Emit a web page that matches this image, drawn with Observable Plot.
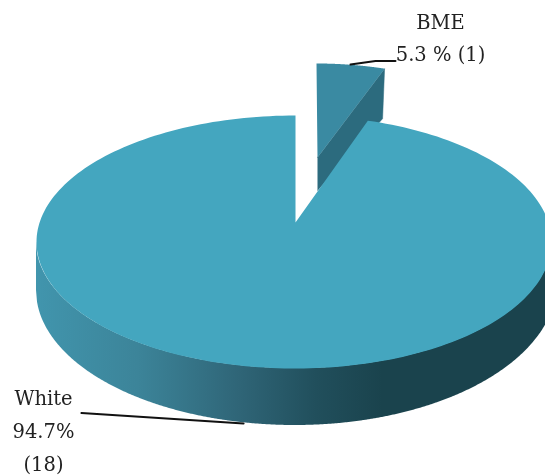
<!DOCTYPE html>
<html>
<head>
<meta charset="utf-8">
<script src="https://cdn.jsdelivr.net/npm/d3@7"></script>
<script src="https://cdn.jsdelivr.net/npm/@observablehq/plot@0.6"></script>
<style>html,body{margin:0;padding:0;background:#fff}svg{display:block}</style>
</head>
<body>
<div id="chart"></div>
<script>
const categories = ["White", "BME"];
const shares = [94.7, 5.3];
const counts = [18, 1];

const W = 545, H = 475;
const arcs = d3.pie().sort(null).startAngle(0).endAngle(2 * Math.PI)(shares.slice().reverse());
const sweep = arcs[0].endAngle * 0.86; // foreshortened opening of the slice

const steps = d3.range(0, 241).map(i => i / 240);
const ell = (cx, cy, rx, ry, a) => ({x: cx + rx * Math.sin(a), y: cy - ry * Math.cos(a)});
const rxTop = a => (Math.sin(a) > 0 ? 256 : 259);

// main slice top face
const bigAngles = steps.map(t => sweep + t * (2 * Math.PI - sweep));
const bigTop = [{x: 295, y: 222}, ...bigAngles.map(a => ell(295, 241.5, rxTop(a), 126.5, a))];
// main slice wall
const wall = d3.range(36, 546).map(x => {
  const dx = x - 295;
  const rt = dx < 0 ? 259 : 256;
  const top = 241.5 + 126.5 * Math.sqrt(Math.max(0, 1 - (dx / rt) ** 2));
  const rx = dx < 0 ? 259 : 262, cy = dx < 0 ? 290 : 282, ry = dx < 0 ? 135 : 143;
  const bot = cy + ry * Math.sqrt(Math.max(0, 1 - (dx / rx) ** 2));
  return {x, y1: top, y2: bot};
});
// exploded slice
const rim = steps.map(t => ell(316, 189.5, 241, 126.5, t * sweep));
const sliceTop = [{x: 317, y: 157}, ...rim];
const rimEnd = rim[rim.length - 1];
const sliceSide = [{x: 317, y: 157}, rimEnd, {x: rimEnd.x - 2, y: rimEnd.y + 50}, {x: 317, y: 190}];

const leaderBME = [{x: 350, y: 64}, {x: 375, y: 60.5}, {x: 395, y: 60.5}];
const leaderWhite = [{x: 81, y: 412.5}, {x: 243, y: 423}];

const labels = [
  {x: 440, y: 22, t: categories[1]},
  {x: 440, y: 54, t: `${shares[1]} % (${counts[1]})`},
  {x: 43, y: 398, t: categories[0]},
  {x: 43, y: 431, t: `${shares[0]}%`},
  {x: 43, y: 464, t: `(${counts[0]})`}
];

const defs = () => {
  const s = d3.create("svg:defs");
  const g = s.append("linearGradient").attr("id", "wallGrad").attr("x1", 0).attr("x2", 1).attr("y1", 0).attr("y2", 0);
  [[0, "#4195ad"], [0.2, "#3c8499"], [0.4, "#2f6577"], [0.55, "#214f5c"], [0.68, "#1a434d"], [1, "#1a434d"]]
    .forEach(([o, c]) => g.append("stop").attr("offset", o).attr("stop-color", c));
  return s.node();
};

const plot = Plot.plot({
  width: W, height: H,
  margin: 0,
  x: {domain: [0, W], range: [0, W], axis: null},
  y: {domain: [0, H], range: [0, H], axis: null},
  marks: [
    defs,
    Plot.line(sliceSide, {x: "x", y: "y", fill: "#2c6b7e", stroke: "#2c6b7e", strokeWidth: 0.5}),
    Plot.line(sliceTop, {x: "x", y: "y", fill: "#3a8aa2", stroke: "none"}),
    Plot.areaY(wall, {x: "x", y1: "y1", y2: "y2", fill: "url(#wallGrad)"}),
    Plot.line(bigTop, {x: "x", y: "y", fill: "#44a6bf", stroke: "none"}),
    Plot.line(leaderBME, {x: "x", y: "y", stroke: "#111", strokeWidth: 2}),
    Plot.line(leaderWhite, {x: "x", y: "y", stroke: "#111", strokeWidth: 2.2}),
    Plot.text(labels, {x: "x", y: "y", text: "t", fontSize: 19.5, fontFamily: "DejaVu Serif", fill: "#222", textAnchor: "middle"})
  ],
  style: {background: "#fff", filter: "blur(0.4px)"}
});
document.getElementById("chart").append(plot);
</script>
</body>
</html>
